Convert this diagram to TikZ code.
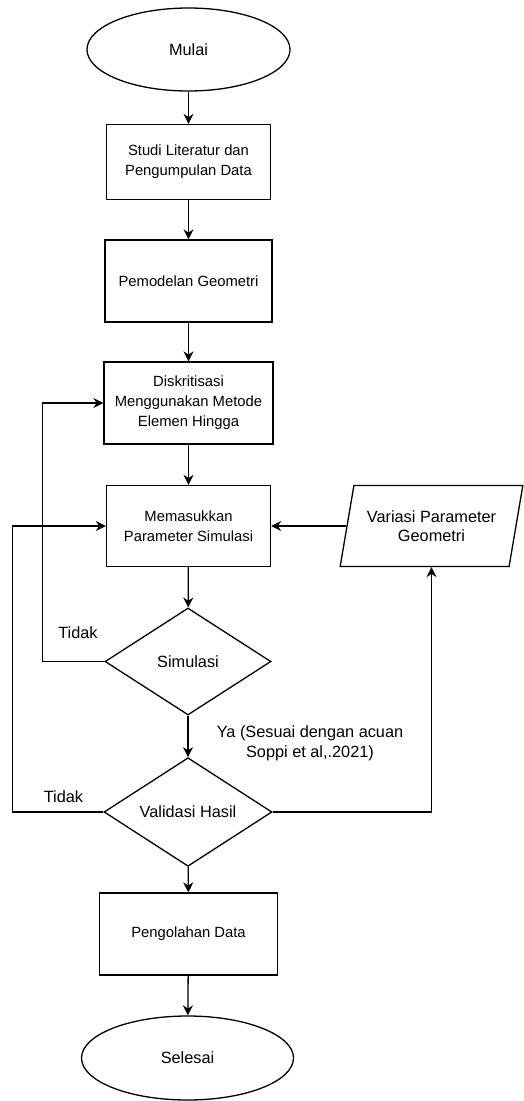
\documentclass[tikz,border=0pt]{standalone}
\usepackage{fontspec}
\setmainfont{Liberation Sans}
\usetikzlibrary{shapes.geometric,arrows.meta}

\begin{document}
\begin{tikzpicture}[x=1pt, y=-1pt, line width=1.3pt,
        >={Stealth[length=10pt,width=10pt]},
        terminal/.style={draw, ellipse, inner sep=0pt, font=\fontsize{16.3}{20}\selectfont},
        proses/.style={draw, rectangle, inner sep=0pt, align=center, font=\fontsize{14.8}{20}\selectfont},
        keputusan/.style={draw, diamond, inner sep=0pt, font=\fontsize{16.3}{20}\selectfont},
        masukan/.style={draw, trapezium, trapezium left angle=70, trapezium right angle=110,
                        trapezium stretches=true, inner sep=0pt, align=center, font=\fontsize{16.3}{19.5}\selectfont},
        ket/.style={align=center, font=\fontsize{16.3}{20}\selectfont}]
        \useasboundingbox (0,0) rectangle (523,1101);                    %
        \node [terminal, minimum width=203pt, minimum height=83pt]  (mulai)   at (188.5,49.5)  {Mulai};
        \node [proses, minimum width=164pt, minimum height=75pt]    (studi)   at (188.5,162)   {Studi Literatur dan\\Pengumpulan Data};
        \node [proses, minimum width=167pt, minimum height=82pt]    (geo)     at (188.5,281)   {Pemodelan Geometri};
        \node [proses, minimum width=169pt, minimum height=82pt]    (disk)    at (188.5,403)   {Diskritisasi\\Menggunakan Metode\\Elemen Hingga};
        \node [proses, minimum width=164pt, minimum height=81pt]    (param)   at (188.5,526)   {Memasukkan\\Parameter Simulasi};
        \node [masukan, minimum width=183pt, minimum height=81pt]   (variasi) at (431.5,526)   {Variasi Parameter\\Geometri};
        \node [keputusan, minimum width=166pt, minimum height=107pt] (sim)    at (188,661.5)   {Simulasi};
        \node [keputusan, minimum width=168pt, minimum height=108pt] (valid)  at (188,812)     {Validasi Hasil};
        \node [proses, minimum width=178pt, minimum height=82pt]    (olah)    at (188.5,934)   {Pengolahan Data};
        \node [terminal, minimum width=212pt, minimum height=84pt]  (selesai) at (187.5,1058)  {Selesai};
        \node [ket] (tidaka) at (78,633)   {Tidak};                      %
        \node [ket] (tidakb) at (63.5,797) {Tidak};                      %
        \node [ket] (ya)     at (310,743)  {Ya (Sesuai dengan acuan\\Soppi et al,.2021)};
        \coordinate (kiria) at (42.7,661.5);                            %balik ke diskritisasi
        \coordinate (kirib) at (12.7,812);                              %balik ke parameter
        \draw [->] (mulai) -- (studi);                                  %
        \draw [->] (studi) -- (geo);                                    %
        \draw [->] (geo) -- (disk);                                     %
        \draw [->] (disk) -- (param);                                   %
        \draw [->] (param) -- (sim);                                    %
        \draw [->] (sim) -- (valid);                                    %
        \draw [->] (valid) -- (olah);                                   %
        \draw [->] (olah) -- (selesai);                                 %
        \draw [->] (variasi.left side) -- (param.east);                 %
        \draw [->] (sim.west) -- (kiria) |- (disk.west);                %
        \draw [->] (valid.west) -- (kirib) |- (param.west);             %
        \draw [->] (valid.east) -| (variasi.south);                     %
\end{tikzpicture}
\end{document}
